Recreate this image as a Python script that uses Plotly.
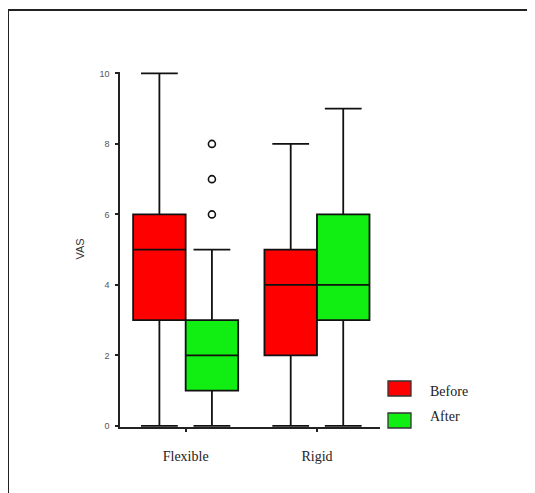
import plotly.graph_objects as go

# ---- data ----
categories = ["Flexible", "Rigid"]
series_names = ["Before", "After"]
series_colors = ["#ff0000", "#11ee11"]

before_q1 = [3, 2]
before_median = [5, 4]
before_q3 = [6, 5]
before_low = [0, 0]
before_high = [10, 8]

after_q1 = [1, 3]
after_median = [2, 4]
after_q3 = [3, 6]
after_low = [0, 0]
after_high = [5, 9]

outlier_category = "Flexible"
outlier_values = [6, 7, 8]

y_ticks = [0, 2, 4, 6, 8, 10]

# ---- layout geometry (pixels, in reference-image coordinates) ----
W, H = 535, 493
FIG_W = W + 10  # extra so the frame reaches the window edge
SHIFT = 8  # the html body adds an 8px margin
PL, PR, PT, PB = 120, 380, 72, 427  # plot area edges in the reference
BOX_W = 0.4
OFFS = [-0.2, 0.2]


def px_x(p):
    return (p - PL) / (PR - PL)


def px_y(p):
    return (PB - p) / (PB - PT)


pos = list(range(len(categories)))

stats = [
    (before_q1, before_median, before_q3, before_low, before_high),
    (after_q1, after_median, after_q3, after_low, after_high),
]

fig = go.Figure()
for s, (q1, med, q3, lo, hi) in enumerate(stats):
    fig.add_trace(go.Box(
        name=series_names[s],
        x=[p + OFFS[s] for p in pos],
        q1=q1, median=med, q3=q3, lowerfence=lo, upperfence=hi,
        width=BOX_W,
        whiskerwidth=0.7,
        fillcolor=series_colors[s],
        line=dict(color="#111111", width=1.8),
        boxpoints=False,
        showlegend=False,
        hoverinfo="skip",
    ))

oi = categories.index(outlier_category)
fig.add_trace(go.Scatter(
    x=[pos[oi] + OFFS[1]] * len(outlier_values),
    y=outlier_values,
    mode="markers",
    marker=dict(symbol="circle-open", size=7, color="#111111", line=dict(width=1.6)),
    showlegend=False,
    hoverinfo="skip",
))

shapes = []
annotations = []

# outer frame (top & left only)
shapes.append(dict(type="line", xref="paper", yref="paper",
                   x0=px_x(8), x1=px_x(FIG_W + 20), y0=px_y(10), y1=px_y(10),
                   line=dict(color="#222222", width=2)))
shapes.append(dict(type="line", xref="paper", yref="paper",
                   x0=px_x(8), x1=px_x(8), y0=px_y(10), y1=px_y(H + 20),
                   line=dict(color="#222222", width=2)))

# custom legend
leg_rows = [(381, 396), (413, 428)]
leg_text_y = [391, 416]
for s, (y0, y1) in enumerate(leg_rows):
    shapes.append(dict(type="rect", xref="paper", yref="paper",
                       x0=px_x(388), x1=px_x(411), y0=px_y(y1), y1=px_y(y0),
                       fillcolor=series_colors[s],
                       line=dict(color="#333333", width=1.3)))
    annotations.append(dict(xref="paper", yref="paper",
                            x=px_x(428), y=px_y(leg_text_y[s]),
                            text=series_names[s], showarrow=False,
                            xanchor="left", yanchor="middle",
                            font=dict(family="Liberation Serif, Times New Roman, serif",
                                      size=14, color="#222222")))

# y-axis title
annotations.append(dict(xref="paper", yref="paper", x=px_x(79), y=0.5,
                        text="VAS", textangle=-90, showarrow=False,
                        xanchor="center", yanchor="middle",
                        font=dict(family="Liberation Sans", size=11, color="#333333")))

fig.update_layout(
    width=FIG_W, height=H,
    margin=dict(l=PL - SHIFT, r=FIG_W - PR + SHIFT, t=PT - SHIFT, b=H - PB + SHIFT),
    paper_bgcolor="white", plot_bgcolor="white",
    showlegend=False,
    shapes=shapes,
    annotations=annotations,
    xaxis=dict(
        range=[-0.5, 1.48],
        tickmode="array", tickvals=pos, ticktext=categories,
        showgrid=False, zeroline=False,
        showline=True, linecolor="#222222", linewidth=1.6,
        ticks="outside", ticklen=3, tickwidth=2, tickcolor="#222222",
        ticklabelstandoff=12,
        tickfont=dict(family="Liberation Serif, Times New Roman, serif",
                      size=14, color="#222222"),
    ),
    yaxis=dict(
        range=[-0.03, 10.04],
        tickmode="array", tickvals=y_ticks,
        showgrid=False, zeroline=False,
        showline=True, linecolor="#222222", linewidth=1.6,
        ticks="outside", ticklen=3, tickwidth=2, tickcolor="#222222",
        ticklabelstandoff=4,
        tickfont=dict(family="Liberation Sans", size=9, color="#555555"),
    ),
)

fig.write_html("out.html")
